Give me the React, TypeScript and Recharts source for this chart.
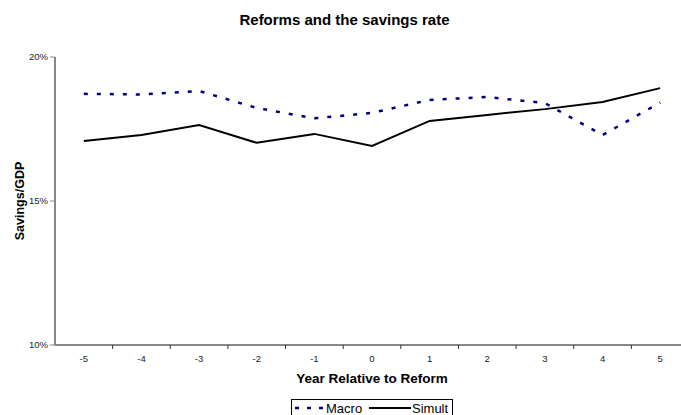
import { LineChart, Line, XAxis, YAxis } from 'recharts'

const YEARS = [-5, -4, -3, -2, -1, 0, 1, 2, 3, 4, 5]
const MACRO = [18.72, 18.7, 18.82, 18.23, 17.87, 18.06, 18.51, 18.61, 18.4, 17.29, 18.42]
const SIMULT = [17.08, 17.29, 17.64, 17.02, 17.33, 16.91, 17.78, 17.99, 18.19, 18.44, 18.92]
const Y_TICKS = [10, 15, 20]
// tick marks sit between the years, labels on the years
const X_TICKS = [...YEARS, ...YEARS.map((y) => y + 0.5)].sort((a, b) => a - b)

const data = YEARS.map((year, i) => ({ year, Macro: MACRO[i], Simult: SIMULT[i] }))

const AXIS_GRAY = '#868686'
const FONT = '"Liberation Sans", Arial, sans-serif'

function YearTick(props: any) {
  const { x, y, payload } = props
  const v = payload.value
  if (Number.isInteger(v)) {
    return (
      <text x={x} y={y + 17} textAnchor="middle" fontSize={9.5} fill="#222" fontFamily={FONT}>
        {v}
      </text>
    )
  }
  return <line x1={x} y1={y} x2={x} y2={y + 4} stroke="#333" strokeWidth={1} />
}

export default function App() {
  return (
    <div style={{ position: 'absolute', left: 0, top: 0, width: 681, height: 415, overflow: 'hidden', background: '#fff', fontFamily: FONT }}>
      <div style={{ position: 'absolute', left: 0, top: 12, width: 689, textAlign: 'center', fontSize: 15, fontWeight: 'bold', lineHeight: '15px', color: '#000' }}>
        Reforms and the savings rate
      </div>
      <LineChart width={689} height={415} data={data} margin={{ top: 57, right: 0, bottom: 0, left: 0 }}>
        <XAxis
          dataKey="year"
          type="number"
          domain={[-5.5, 5.5]}
          ticks={X_TICKS}
          interval={0}
          tickSize={0}
          tickMargin={0}
          tickLine={false}
          tick={YearTick}
          height={70}
          axisLine={{ stroke: AXIS_GRAY, strokeWidth: 2 }}
          label={{
            content: ({ viewBox }: any) => (
              <text x={viewBox.x + viewBox.width / 2} y={viewBox.y + 38} textAnchor="middle" fontSize={13.5} fontWeight="bold" fill="#000" fontFamily={FONT}>
                Year Relative to Reform
              </text>
            ),
          }}
        />
        <YAxis
          type="number"
          domain={[10, 20]}
          ticks={Y_TICKS}
          width={55}
          tickSize={5}
          tickMargin={2}
          tickLine={{ stroke: AXIS_GRAY }}
          axisLine={{ stroke: AXIS_GRAY, strokeWidth: 2 }}
          tick={{ fontSize: 9.5, fill: '#222', fontFamily: FONT }}
          tickFormatter={(v) => `${v}%`}
          label={{
            content: ({ viewBox }: any) => {
              const cx = viewBox.x + 20
              const cy = viewBox.y + viewBox.height / 2
              return (
                <text x={cx} y={cy} transform={`rotate(-90 ${cx} ${cy})`} textAnchor="middle" dominantBaseline="central" fontSize={12.5} fontWeight="bold" fill="#000" fontFamily={FONT}>
                  Savings/GDP
                </text>
              )
            },
          }}
        />
        <Line type="linear" dataKey="Macro" stroke="#000080" strokeWidth={2.5} strokeDasharray="4 9" dot={false} isAnimationActive={false} />
        <Line type="linear" dataKey="Simult" stroke="#000" strokeWidth={2} dot={false} isAnimationActive={false} />
      </LineChart>
      <div style={{ position: 'absolute', left: 291, top: 399, width: 162, height: 22 }}>
        <svg width={162} height={22} style={{ display: 'block' }}>
          <rect x={0.5} y={0.5} width={161} height={21} fill="#fff" stroke="#000" />
          <line x1={4} y1={9} x2={32} y2={9} stroke="#000080" strokeWidth={2.5} strokeDasharray="4 8" />
          <text x={35} y={14} fontSize={13} fill="#000" fontFamily={FONT}>Macro</text>
          <line x1={78} y1={9} x2={120} y2={9} stroke="#000" strokeWidth={2} />
          <text x={121} y={14} fontSize={13} fill="#000" fontFamily={FONT}>Simult</text>
        </svg>
      </div>
    </div>
  )
}
